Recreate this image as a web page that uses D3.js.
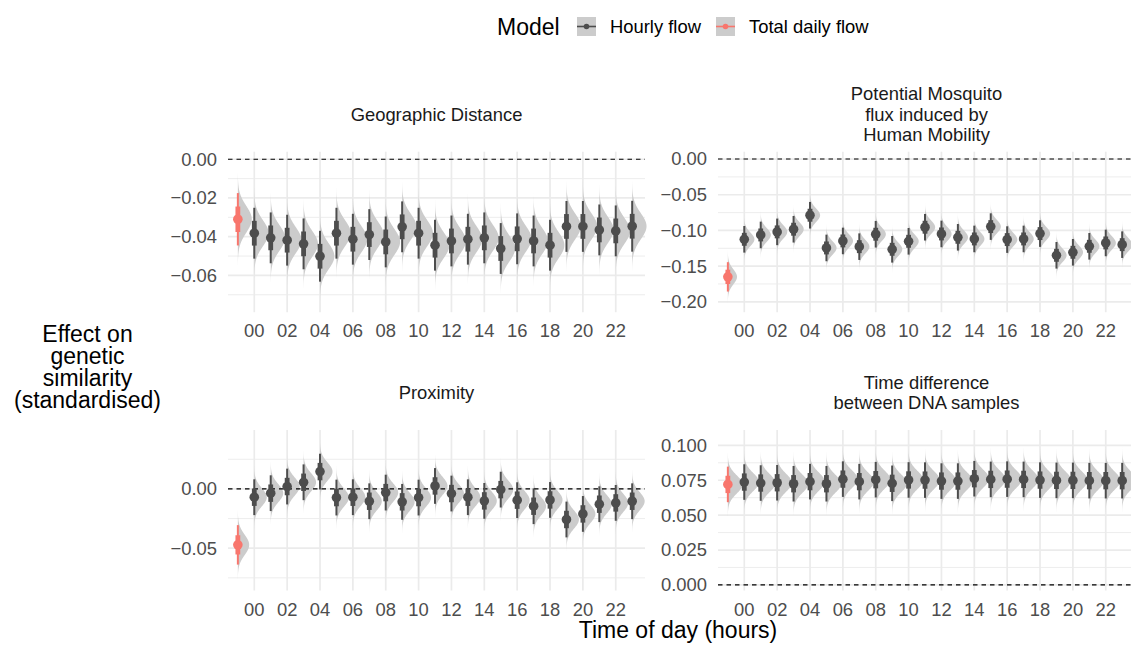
<!DOCTYPE html>
<html>
<head>
<meta charset="utf-8">
<script src="https://cdn.jsdelivr.net/npm/d3@7"></script>
<style>
  body { margin: 0; background: #fff; }
  svg { font-family: "Liberation Sans", Arial, Helvetica, sans-serif; }
</style>
</head>
<body>
<svg id="chart" width="1131" height="646"></svg>
<script>
// data

const hours = ["00", "01", "02", "03", "04", "05", "06", "07", "08", "09", "10", "11",
               "12", "13", "14", "15", "16", "17", "18", "19", "20", "21", "22", "23"];
const hourTicks = ["00", "02", "04", "06", "08", "10", "12", "14", "16", "18", "20", "22"];

const facetTitles = [
  ["Geographic Distance"],
  ["Potential Mosquito", "flux induced by", "Human Mobility"],
  ["Proximity"],
  ["Time difference", "between DNA samples"]
];

// posterior medians, hourly flow model
const geoHourly = [-0.0382, -0.0406, -0.0418, -0.0437, -0.0501, -0.0382, -0.0413, -0.0389,
                   -0.0427, -0.0349, -0.0382, -0.0444, -0.0422, -0.0413, -0.0406, -0.0461,
                   -0.0411, -0.0422, -0.0444, -0.0347, -0.0347, -0.0365, -0.0370, -0.0346];
const mosqHourly = [-0.1124, -0.1063, -0.1020, -0.0983, -0.0787, -0.1245, -0.1147, -0.1227,
                    -0.1053, -0.1264, -0.1152, -0.0955, -0.1049, -0.1096, -0.1119, -0.0946,
                    -0.1128, -0.1119, -0.1044, -0.1348, -0.1306, -0.1222, -0.1175, -0.1199];
const proxHourly = [-0.0070, -0.0036, 0.0020, 0.0056, 0.0146, -0.0073, -0.0070, -0.0104,
                    -0.0031, -0.0109, -0.0073, 0.0025, -0.0039, -0.0070, -0.0101, -0.0006,
                    -0.0095, -0.0146, -0.0093, -0.0258, -0.0211, -0.0129, -0.0118, -0.0104];
const timeHourly = [0.0737, 0.0730, 0.0732, 0.0725, 0.0740, 0.0725, 0.0758, 0.0740,
                    0.0754, 0.0728, 0.0752, 0.0751, 0.0744, 0.0744, 0.0761, 0.0756,
                    0.0758, 0.0756, 0.0751, 0.0749, 0.0749, 0.0747, 0.0747, 0.0747];
const hourlyMedians = [geoHourly, mosqHourly, proxHourly, timeHourly];
const hourlySd = [0.0067, 0.0095, 0.0077, 0.0065];

// total daily flow model
const dailyMedian = [-0.0310, -0.1650, -0.0472, 0.0720];
const dailySd = [0.0069, 0.0105, 0.0085, 0.0065];

// y axes (free scales)
const yDomains = [[-0.079, 0.0039], [-0.2145, 0.0103], [-0.0857, 0.0497], [-0.004, 0.111]];
const yMajor = [
  [-0.06, -0.04, -0.02, 0.00],
  [-0.20, -0.15, -0.10, -0.05, 0.00],
  [-0.05, 0.00],
  [0.000, 0.025, 0.050, 0.075, 0.100]
];
const yMinor = [
  [-0.07, -0.05, -0.03, -0.01],
  [-0.175, -0.125, -0.075, -0.025],
  [-0.075, -0.025, 0.025],
  [0.0125, 0.0375, 0.0625, 0.0875]
];
const yFormats = [".2f", ".2f", ".2f", ".3f"];

const models = ["Hourly flow", "Total daily flow"];
const modelColors = ["#4D4D4D", "#F8766D"];

// layout
const colLeft = [228, 718];
const rowTop = [151.7, 430];
const panelW = 417, panelH = 160.5;
const xDomain = [-1.6, 23.78];
const slabFill = "#CCCCCC";
const gridCol = "#EBEBEB";
const smallFont = 18.4, bigFont = 23;

const svg = d3.select("#chart");

const z66 = 0.954, z95 = 1.96;
const maxDens = d3.max(hourlySd.concat(dailySd), s => 1 / (s * Math.sqrt(2 * Math.PI)));
const tGrid = d3.range(-4, 4.001, 0.05);

function drawPanel(i) {
  const col = i % 2, row = Math.floor(i / 2);
  const x = d3.scaleLinear().domain(xDomain).range([colLeft[col], colLeft[col] + panelW]);
  const y = d3.scaleLinear().domain(yDomains[i]).range([rowTop[row] + panelH, rowTop[row]]);
  const g = svg.append("g");

  const pts = [{ pos: -1, model: 1, med: dailyMedian[i], sd: dailySd[i] }]
    .concat(hours.map((h, k) => ({ pos: k, model: 0, med: hourlyMedians[i][k], sd: hourlySd[i] })));

  // grid
  g.selectAll("line.minor").data(yMinor[i]).join("line")
    .attr("x1", x.range()[0]).attr("x2", x.range()[1])
    .attr("y1", d => y(d)).attr("y2", d => y(d))
    .attr("stroke", gridCol).attr("stroke-width", 0.9);
  g.selectAll("line.major").data(yMajor[i]).join("line")
    .attr("x1", x.range()[0]).attr("x2", x.range()[1])
    .attr("y1", d => y(d)).attr("y2", d => y(d))
    .attr("stroke", gridCol).attr("stroke-width", 1.7);
  g.selectAll("line.vgrid").data(hourTicks).join("line")
    .attr("x1", d => x(hours.indexOf(d))).attr("x2", d => x(hours.indexOf(d)))
    .attr("y1", y.range()[1]).attr("y2", y.range()[0])
    .attr("stroke", gridCol).attr("stroke-width", 1.7);

  // half-eye slabs
  const area = d3.area()
    .y(d => y(d.v))
    .x0(d => x(d.pos))
    .x1(d => x(d.pos + d.th));
  pts.forEach(p => {
    const dens = tGrid.map(t => ({
      pos: p.pos,
      v: p.med + t * p.sd,
      th: 0.9 * (Math.exp(-t * t / 2) / (p.sd * Math.sqrt(2 * Math.PI))) / maxDens
    }));
    g.append("path").attr("d", area(dens)).attr("fill", slabFill);
  });

  // zero reference
  g.append("line")
    .attr("x1", x.range()[0]).attr("x2", x.range()[1])
    .attr("y1", y(0)).attr("y2", y(0))
    .attr("stroke", "#000").attr("stroke-width", 1.1)
    .attr("stroke-dasharray", "4.5,4");

  // intervals + points
  pts.forEach(p => {
    const c = modelColors[p.model];
    g.append("line")
      .attr("x1", x(p.pos)).attr("x2", x(p.pos))
      .attr("y1", y(p.med - z95 * p.sd)).attr("y2", y(p.med + z95 * p.sd))
      .attr("stroke", c).attr("stroke-width", 2);
    g.append("line")
      .attr("x1", x(p.pos)).attr("x2", x(p.pos))
      .attr("y1", y(p.med - z66 * p.sd)).attr("y2", y(p.med + z66 * p.sd))
      .attr("stroke", c).attr("stroke-width", 4.8);
    g.append("circle")
      .attr("cx", x(p.pos)).attr("cy", y(p.med)).attr("r", 4.8)
      .attr("fill", c);
  });

  // y tick labels
  const fmt = d3.format(yFormats[i]);
  g.selectAll("text.ytick").data(yMajor[i]).join("text")
    .attr("x", x.range()[0] - 11).attr("y", d => y(d) + 6.4)
    .attr("text-anchor", "end").attr("font-size", smallFont).attr("fill", "#4D4D4D")
    .text(d => fmt(d));

  // x tick labels
  g.selectAll("text.xtick").data(hourTicks).join("text")
    .attr("x", d => x(hours.indexOf(d))).attr("y", y.range()[0] + 25)
    .attr("text-anchor", "middle").attr("font-size", smallFont).attr("fill", "#4D4D4D")
    .text(d => d);

  // strip title
  const lines = facetTitles[i];
  const cy = row === 0 ? 114 : 392.5;
  const lh = 20.5;
  g.selectAll("text.strip").data(lines).join("text")
    .attr("x", (x.range()[0] + x.range()[1]) / 2)
    .attr("y", (d, k) => cy + (k - (lines.length - 1) / 2) * lh + 6.5)
    .attr("text-anchor", "middle").attr("font-size", smallFont).attr("fill", "#1A1A1A")
    .text(d => d);
}

d3.range(4).forEach(drawPanel);

// axis titles
const yTitle = ["Effect on", "genetic", "similarity", "(standardised)"];
svg.selectAll("text.ytitle").data(yTitle).join("text")
  .attr("x", 87.5).attr("y", (d, k) => 341.5 + k * 22.3)
  .attr("text-anchor", "middle").attr("font-size", bigFont).attr("fill", "#000")
  .text(d => d);

svg.append("text")
  .attr("x", 678).attr("y", 638)
  .attr("text-anchor", "middle").attr("font-size", bigFont).attr("fill", "#000")
  .text("Time of day (hours)");

// legend
const leg = svg.append("g");
leg.append("text").attr("x", 497).attr("y", 35)
  .attr("font-size", bigFont).attr("fill", "#000").text("Model");
const keyX = [577, 716];
const labX = [610, 749];
models.forEach((m, k) => {
  leg.append("rect").attr("x", keyX[k]).attr("y", 17).attr("width", 19).attr("height", 19)
    .attr("fill", slabFill);
  leg.append("line").attr("x1", keyX[k]).attr("x2", keyX[k] + 19)
    .attr("y1", 26.5).attr("y2", 26.5)
    .attr("stroke", modelColors[k]).attr("stroke-width", 1.6);
  leg.append("circle").attr("cx", keyX[k] + 9.5).attr("cy", 26.5).attr("r", 2.8)
    .attr("fill", modelColors[k]);
  leg.append("text").attr("x", labX[k]).attr("y", 33)
    .attr("font-size", smallFont).attr("fill", "#000").text(m);
});
</script>
</body>
</html>
